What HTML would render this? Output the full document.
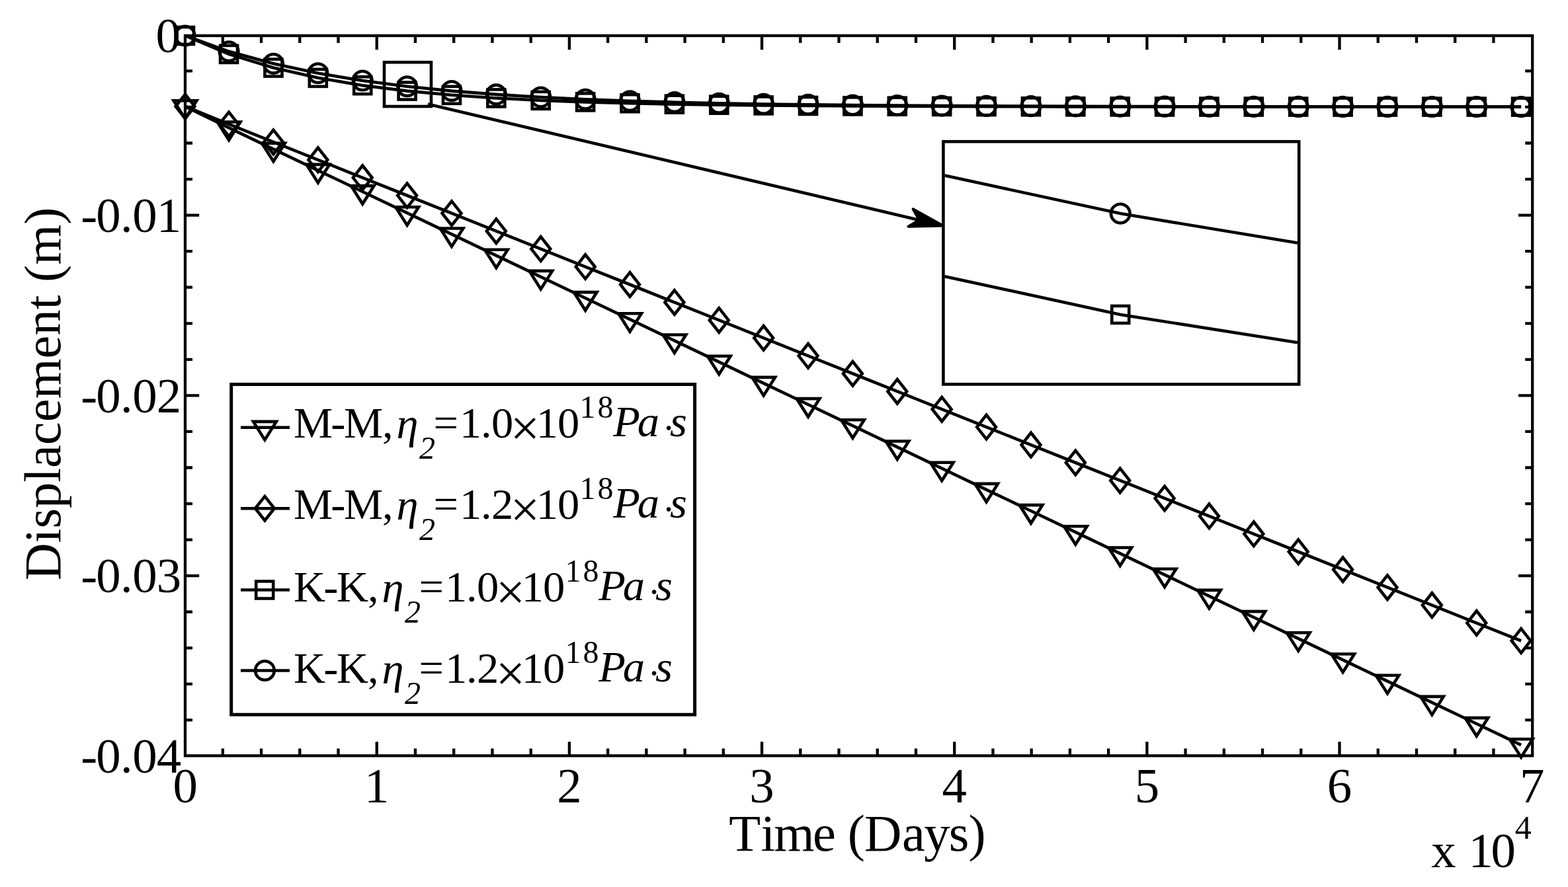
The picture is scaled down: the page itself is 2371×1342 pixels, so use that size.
<!DOCTYPE html>
<html><head><meta charset="utf-8"><title>Displacement vs Time</title>
<style>html,body{margin:0;padding:0;background:#fff;overflow:hidden}svg{display:block}text{font-family:"Liberation Serif","Times New Roman",serif;fill:#000}.it{font-style:italic}</style></head><body>
<svg width="2371" height="1342" viewBox="0 0 2371 1342">
<rect x="0" y="0" width="2371" height="1342" fill="#fff"/>
<g fill="none" stroke="#000" stroke-width="4.6" stroke-linejoin="miter" stroke-miterlimit="10">
<polyline points="280,161.2 346.08,193.4 413.46,225.6 480.84,257.8 548.22,290 615.6,322.2 682.98,354.4 750.36,386.6 817.74,418.8 885.12,451 952.5,483.2 1019.88,515.4 1087.26,547.6 1154.64,579.8 1222.02,612 1289.4,644.2 1356.78,676.4 1424.16,708.6 1491.54,740.8 1558.92,773 1626.3,805.2 1693.68,837.4 1761.06,869.6 1828.44,901.8 1895.82,934 1963.2,966.2 2030.58,998.4 2097.96,1030.6 2165.34,1062.8 2232.72,1095 2300.1,1127.2"/>
<polyline points="280,161 346.08,187.95 413.46,214.9 480.84,241.85 548.22,268.8 615.6,295.75 682.98,322.7 750.36,349.65 817.74,376.6 885.12,403.55 952.5,430.5 1019.88,457.45 1087.26,484.4 1154.64,511.35 1222.02,538.3 1289.4,565.25 1356.78,592.2 1424.16,619.15 1491.54,646.1 1558.92,673.05 1626.3,700 1693.68,726.95 1761.06,753.9 1828.44,780.85 1895.82,807.8 1963.2,834.75 2030.58,861.7 2097.96,888.65 2165.34,915.6 2232.72,942.55 2300.1,969.5"/>
<polyline points="280,54 346.08,81.89 413.46,102.55 480.84,117.85 548.22,129.19 615.6,137.59 682.98,143.81 750.36,148.42 817.74,151.84 885.12,154.37 952.5,156.24 1019.88,157.63 1087.26,158.66 1154.64,159.42 1222.02,159.99 1289.4,160.4 1356.78,160.71 1424.16,160.94 1491.54,161.11 1558.92,161.24 1626.3,161.33 1693.68,161.4 1761.06,161.45 1828.44,161.49 1895.82,161.52 1963.2,161.54 2030.58,161.56 2097.96,161.57 2165.34,161.58 2232.72,161.58 2300.1,161.59"/>
<polyline points="280,54 346.08,77.8 413.46,96.34 480.84,110.77 548.22,122.02 615.6,130.77 682.98,137.59 750.36,142.9 817.74,147.04 885.12,150.26 952.5,152.77 1019.88,154.72 1087.26,156.24 1154.64,157.43 1222.02,158.35 1289.4,159.07 1356.78,159.63 1424.16,160.07 1491.54,160.4 1558.92,160.67 1626.3,160.87 1693.68,161.04 1761.06,161.16 1828.44,161.26 1895.82,161.33 1963.2,161.39 2030.58,161.44 2097.96,161.47 2165.34,161.5 2232.72,161.52 2300.1,161.54"/>
<polygon points="262.6,152.3 297.4,152.3 280,179.8"/>
<polygon points="328.68,184.5 363.48,184.5 346.08,212"/>
<polygon points="396.06,216.7 430.86,216.7 413.46,244.2"/>
<polygon points="463.44,248.9 498.24,248.9 480.84,276.4"/>
<polygon points="530.82,281.1 565.62,281.1 548.22,308.6"/>
<polygon points="598.2,313.3 633,313.3 615.6,340.8"/>
<polygon points="665.58,345.5 700.38,345.5 682.98,373"/>
<polygon points="732.96,377.7 767.76,377.7 750.36,405.2"/>
<polygon points="800.34,409.9 835.14,409.9 817.74,437.4"/>
<polygon points="867.72,442.1 902.52,442.1 885.12,469.6"/>
<polygon points="935.1,474.3 969.9,474.3 952.5,501.8"/>
<polygon points="1002.48,506.5 1037.28,506.5 1019.88,534"/>
<polygon points="1069.86,538.7 1104.66,538.7 1087.26,566.2"/>
<polygon points="1137.24,570.9 1172.04,570.9 1154.64,598.4"/>
<polygon points="1204.62,603.1 1239.42,603.1 1222.02,630.6"/>
<polygon points="1272,635.3 1306.8,635.3 1289.4,662.8"/>
<polygon points="1339.38,667.5 1374.18,667.5 1356.78,695"/>
<polygon points="1406.76,699.7 1441.56,699.7 1424.16,727.2"/>
<polygon points="1474.14,731.9 1508.94,731.9 1491.54,759.4"/>
<polygon points="1541.52,764.1 1576.32,764.1 1558.92,791.6"/>
<polygon points="1608.9,796.3 1643.7,796.3 1626.3,823.8"/>
<polygon points="1676.28,828.5 1711.08,828.5 1693.68,856"/>
<polygon points="1743.66,860.7 1778.46,860.7 1761.06,888.2"/>
<polygon points="1811.04,892.9 1845.84,892.9 1828.44,920.4"/>
<polygon points="1878.42,925.1 1913.22,925.1 1895.82,952.6"/>
<polygon points="1945.8,957.3 1980.6,957.3 1963.2,984.8"/>
<polygon points="2013.18,989.5 2047.98,989.5 2030.58,1017"/>
<polygon points="2080.56,1021.7 2115.36,1021.7 2097.96,1049.2"/>
<polygon points="2147.94,1053.9 2182.74,1053.9 2165.34,1081.4"/>
<polygon points="2215.32,1086.1 2250.12,1086.1 2232.72,1113.6"/>
<polygon points="2282.7,1118.3 2317.5,1118.3 2300.1,1145.8"/>
<polygon points="265.6,161 280,142.7 294.4,161 280,179.3"/>
<polygon points="331.68,187.95 346.08,169.65 360.48,187.95 346.08,206.25"/>
<polygon points="399.06,214.9 413.46,196.6 427.86,214.9 413.46,233.2"/>
<polygon points="466.44,241.85 480.84,223.55 495.24,241.85 480.84,260.15"/>
<polygon points="533.82,268.8 548.22,250.5 562.62,268.8 548.22,287.1"/>
<polygon points="601.2,295.75 615.6,277.45 630,295.75 615.6,314.05"/>
<polygon points="668.58,322.7 682.98,304.4 697.38,322.7 682.98,341"/>
<polygon points="735.96,349.65 750.36,331.35 764.76,349.65 750.36,367.95"/>
<polygon points="803.34,376.6 817.74,358.3 832.14,376.6 817.74,394.9"/>
<polygon points="870.72,403.55 885.12,385.25 899.52,403.55 885.12,421.85"/>
<polygon points="938.1,430.5 952.5,412.2 966.9,430.5 952.5,448.8"/>
<polygon points="1005.48,457.45 1019.88,439.15 1034.28,457.45 1019.88,475.75"/>
<polygon points="1072.86,484.4 1087.26,466.1 1101.66,484.4 1087.26,502.7"/>
<polygon points="1140.24,511.35 1154.64,493.05 1169.04,511.35 1154.64,529.65"/>
<polygon points="1207.62,538.3 1222.02,520 1236.42,538.3 1222.02,556.6"/>
<polygon points="1275,565.25 1289.4,546.95 1303.8,565.25 1289.4,583.55"/>
<polygon points="1342.38,592.2 1356.78,573.9 1371.18,592.2 1356.78,610.5"/>
<polygon points="1409.76,619.15 1424.16,600.85 1438.56,619.15 1424.16,637.45"/>
<polygon points="1477.14,646.1 1491.54,627.8 1505.94,646.1 1491.54,664.4"/>
<polygon points="1544.52,673.05 1558.92,654.75 1573.32,673.05 1558.92,691.35"/>
<polygon points="1611.9,700 1626.3,681.7 1640.7,700 1626.3,718.3"/>
<polygon points="1679.28,726.95 1693.68,708.65 1708.08,726.95 1693.68,745.25"/>
<polygon points="1746.66,753.9 1761.06,735.6 1775.46,753.9 1761.06,772.2"/>
<polygon points="1814.04,780.85 1828.44,762.55 1842.84,780.85 1828.44,799.15"/>
<polygon points="1881.42,807.8 1895.82,789.5 1910.22,807.8 1895.82,826.1"/>
<polygon points="1948.8,834.75 1963.2,816.45 1977.6,834.75 1963.2,853.05"/>
<polygon points="2016.18,861.7 2030.58,843.4 2044.98,861.7 2030.58,880"/>
<polygon points="2083.56,888.65 2097.96,870.35 2112.36,888.65 2097.96,906.95"/>
<polygon points="2150.94,915.6 2165.34,897.3 2179.74,915.6 2165.34,933.9"/>
<polygon points="2218.32,942.55 2232.72,924.25 2247.12,942.55 2232.72,960.85"/>
<polygon points="2285.7,969.5 2300.1,951.2 2314.5,969.5 2300.1,987.8"/>
<rect x="267" y="41" width="26" height="26"/>
<rect x="333.08" y="68.89" width="26" height="26"/>
<rect x="400.46" y="89.55" width="26" height="26"/>
<rect x="467.84" y="104.85" width="26" height="26"/>
<rect x="535.22" y="116.19" width="26" height="26"/>
<rect x="602.6" y="124.59" width="26" height="26"/>
<rect x="669.98" y="130.81" width="26" height="26"/>
<rect x="737.36" y="135.42" width="26" height="26"/>
<rect x="804.74" y="138.84" width="26" height="26"/>
<rect x="872.12" y="141.37" width="26" height="26"/>
<rect x="939.5" y="143.24" width="26" height="26"/>
<rect x="1006.88" y="144.63" width="26" height="26"/>
<rect x="1074.26" y="145.66" width="26" height="26"/>
<rect x="1141.64" y="146.42" width="26" height="26"/>
<rect x="1209.02" y="146.99" width="26" height="26"/>
<rect x="1276.4" y="147.4" width="26" height="26"/>
<rect x="1343.78" y="147.71" width="26" height="26"/>
<rect x="1411.16" y="147.94" width="26" height="26"/>
<rect x="1478.54" y="148.11" width="26" height="26"/>
<rect x="1545.92" y="148.24" width="26" height="26"/>
<rect x="1613.3" y="148.33" width="26" height="26"/>
<rect x="1680.68" y="148.4" width="26" height="26"/>
<rect x="1748.06" y="148.45" width="26" height="26"/>
<rect x="1815.44" y="148.49" width="26" height="26"/>
<rect x="1882.82" y="148.52" width="26" height="26"/>
<rect x="1950.2" y="148.54" width="26" height="26"/>
<rect x="2017.58" y="148.56" width="26" height="26"/>
<rect x="2084.96" y="148.57" width="26" height="26"/>
<rect x="2152.34" y="148.58" width="26" height="26"/>
<rect x="2219.72" y="148.58" width="26" height="26"/>
<rect x="2287.1" y="148.59" width="26" height="26"/>
<circle cx="280" cy="54" r="14.3"/>
<circle cx="346.08" cy="77.8" r="14.3"/>
<circle cx="413.46" cy="96.34" r="14.3"/>
<circle cx="480.84" cy="110.77" r="14.3"/>
<circle cx="548.22" cy="122.02" r="14.3"/>
<circle cx="615.6" cy="130.77" r="14.3"/>
<circle cx="682.98" cy="137.59" r="14.3"/>
<circle cx="750.36" cy="142.9" r="14.3"/>
<circle cx="817.74" cy="147.04" r="14.3"/>
<circle cx="885.12" cy="150.26" r="14.3"/>
<circle cx="952.5" cy="152.77" r="14.3"/>
<circle cx="1019.88" cy="154.72" r="14.3"/>
<circle cx="1087.26" cy="156.24" r="14.3"/>
<circle cx="1154.64" cy="157.43" r="14.3"/>
<circle cx="1222.02" cy="158.35" r="14.3"/>
<circle cx="1289.4" cy="159.07" r="14.3"/>
<circle cx="1356.78" cy="159.63" r="14.3"/>
<circle cx="1424.16" cy="160.07" r="14.3"/>
<circle cx="1491.54" cy="160.4" r="14.3"/>
<circle cx="1558.92" cy="160.67" r="14.3"/>
<circle cx="1626.3" cy="160.87" r="14.3"/>
<circle cx="1693.68" cy="161.04" r="14.3"/>
<circle cx="1761.06" cy="161.16" r="14.3"/>
<circle cx="1828.44" cy="161.26" r="14.3"/>
<circle cx="1895.82" cy="161.33" r="14.3"/>
<circle cx="1963.2" cy="161.39" r="14.3"/>
<circle cx="2030.58" cy="161.44" r="14.3"/>
<circle cx="2097.96" cy="161.47" r="14.3"/>
<circle cx="2165.34" cy="161.5" r="14.3"/>
<circle cx="2232.72" cy="161.52" r="14.3"/>
<circle cx="2300.1" cy="161.54" r="14.3"/>
<rect x="280.0" y="54.0" width="2037.2" height="1089.4" stroke-width="4.3"/>
<path d="M336.83,1143.4v-11.0M336.83,54v11.0M395.06,1143.4v-11.0M395.06,54v11.0M453.29,1143.4v-11.0M453.29,54v11.0M511.52,1143.4v-11.0M511.52,54v11.0M569.75,1143.4v-21.2M569.75,54v21.2M627.98,1143.4v-11.0M627.98,54v11.0M686.21,1143.4v-11.0M686.21,54v11.0M744.44,1143.4v-11.0M744.44,54v11.0M802.67,1143.4v-11.0M802.67,54v11.0M860.9,1143.4v-21.2M860.9,54v21.2M919.13,1143.4v-11.0M919.13,54v11.0M977.36,1143.4v-11.0M977.36,54v11.0M1035.59,1143.4v-11.0M1035.59,54v11.0M1093.82,1143.4v-11.0M1093.82,54v11.0M1152.05,1143.4v-21.2M1152.05,54v21.2M1210.28,1143.4v-11.0M1210.28,54v11.0M1268.51,1143.4v-11.0M1268.51,54v11.0M1326.74,1143.4v-11.0M1326.74,54v11.0M1384.97,1143.4v-11.0M1384.97,54v11.0M1443.2,1143.4v-21.2M1443.2,54v21.2M1501.43,1143.4v-11.0M1501.43,54v11.0M1559.66,1143.4v-11.0M1559.66,54v11.0M1617.89,1143.4v-11.0M1617.89,54v11.0M1676.12,1143.4v-11.0M1676.12,54v11.0M1734.35,1143.4v-21.2M1734.35,54v21.2M1792.58,1143.4v-11.0M1792.58,54v11.0M1850.81,1143.4v-11.0M1850.81,54v11.0M1909.04,1143.4v-11.0M1909.04,54v11.0M1967.27,1143.4v-11.0M1967.27,54v11.0M2025.5,1143.4v-21.2M2025.5,54v21.2M2083.73,1143.4v-11.0M2083.73,54v11.0M2141.96,1143.4v-11.0M2141.96,54v11.0M2200.19,1143.4v-11.0M2200.19,54v11.0M2258.42,1143.4v-11.0M2258.42,54v11.0M280,107.36h11.0M2317.2,107.36h-11.0M280,161.92h11.0M2317.2,161.92h-11.0M280,216.48h11.0M2317.2,216.48h-11.0M280,271.04h11.0M2317.2,271.04h-11.0M280,325.6h21.2M2317.2,325.6h-21.2M280,380.16h11.0M2317.2,380.16h-11.0M280,434.72h11.0M2317.2,434.72h-11.0M280,489.28h11.0M2317.2,489.28h-11.0M280,543.84h11.0M2317.2,543.84h-11.0M280,598.4h21.2M2317.2,598.4h-21.2M280,652.96h11.0M2317.2,652.96h-11.0M280,707.52h11.0M2317.2,707.52h-11.0M280,762.08h11.0M2317.2,762.08h-11.0M280,816.64h11.0M2317.2,816.64h-11.0M280,871.2h21.2M2317.2,871.2h-21.2M280,925.76h11.0M2317.2,925.76h-11.0M280,980.32h11.0M2317.2,980.32h-11.0M280,1034.88h11.0M2317.2,1034.88h-11.0M280,1089.44h11.0M2317.2,1089.44h-11.0" stroke-width="4.3"/>
<rect x="581" y="94.2" width="71" height="66.8"/>
<rect x="1426.4" y="214.2" width="537.8" height="367.2" stroke-width="4.6"/>
<polyline points="1428.5,265.6 1694.2,323.1 1962,367.5"/>
<polyline points="1428.5,418.2 1694.2,475.9 1962,518.3"/>
<circle cx="1694.2" cy="323.1" r="14.3"/>
<rect x="1681.2" y="462.9" width="26" height="26"/>
<line x1="647" y1="157.5" x2="1390" y2="333" stroke-width="4.7"/>
<rect x="349.7" y="581.5" width="700.9" height="499.7" fill="#fff" stroke-width="5.0"/>
<line x1="364" y1="646.8" x2="438" y2="646.8"/>
<line x1="364" y1="769.2" x2="438" y2="769.2"/>
<line x1="364" y1="892.5" x2="438" y2="892.5"/>
<line x1="364" y1="1014.5" x2="438" y2="1014.5"/>
<polygon points="383,637.9 417.8,637.9 400.4,665.4"/>
<polygon points="386,769.2 400.4,750.9 414.8,769.2 400.4,787.5"/>
<rect x="387.2" y="879.5" width="26" height="26"/>
<circle cx="400.4" cy="1014.5" r="14.3"/>
</g>
<polygon points="1426,341.5 1380.6,316.3 1390,333 1373.5,342.8" fill="#000" stroke="#000" stroke-width="4" stroke-linejoin="round"/>
<text x="280.3" y="1214.2" font-size="74.8" text-anchor="middle">0</text>
<text x="569.75" y="1214.2" font-size="74.8" text-anchor="middle">1</text>
<text x="860.9" y="1214.2" font-size="74.8" text-anchor="middle">2</text>
<text x="1152.05" y="1214.2" font-size="74.8" text-anchor="middle">3</text>
<text x="1443.2" y="1214.2" font-size="74.8" text-anchor="middle">4</text>
<text x="1734.35" y="1214.2" font-size="74.8" text-anchor="middle">5</text>
<text x="2025.5" y="1214.2" font-size="74.8" text-anchor="middle">6</text>
<text x="2316.65" y="1214.2" font-size="74.8" text-anchor="middle">7</text>
<text x="235.4" y="79.2" font-size="74.8">0</text>
<text x="122.2 145.2 182 200.3 236.8" y="350.7" font-size="74.8">-0.01</text>
<text x="122.2 145.2 182 200.3 236.8" y="623.5" font-size="74.8">-0.02</text>
<text x="122.2 145.2 182 200.3 236.8" y="896.3" font-size="74.8">-0.03</text>
<text x="122.2 145.2 182 200.3 236.8" y="1169.1" font-size="74.8">-0.04</text>
<text x="1102.3 1150.5 1170.5 1228.9 1262 1281.7 1306.7 1364.1 1397.3 1434.7 1464.4" y="1286.8" font-size="78.5">Time (Days)</text>
<text transform="translate(91,878.1) rotate(-90)" font-size="78.5">Displacement (m)</text>
<text x="2164.3 2200 2220.5 2254.5" y="1312.2" font-size="74.8">x 10</text>
<text x="2290.8" y="1269.2" font-size="50">4</text>
<text x="443.9 500.3 520.1 578.1" y="661.9" font-size="66.5">M-M,</text>
<text x="599.4" y="662.9" font-size="66.5" class="it">η</text>
<text x="634" y="693.9" font-size="48" class="it">2</text>
<text x="655.5 694.9 727.1 743" y="661.9" font-size="66.5">=1.0</text>
<text x="771.7" y="674.2" font-size="78.6">×</text>
<text x="810.7 843.1" y="661.9" font-size="66.5">10</text>
<text x="876.4 903.5" y="631.7" font-size="48">18</text>
<text x="927.3 963.7" y="659.7" font-size="66.5" class="it">Pa</text>
<text x="1003.2" y="666.6" font-size="56" class="it">·</text>
<text x="1012.9" y="659.7" font-size="66.5" class="it">s</text>
<text x="443.9 500.3 520.1 578.1" y="785.0" font-size="66.5">M-M,</text>
<text x="599.4" y="786" font-size="66.5" class="it">η</text>
<text x="634" y="817" font-size="48" class="it">2</text>
<text x="655.5 694.9 727.1 743" y="785.0" font-size="66.5">=1.2</text>
<text x="771.7" y="797.3" font-size="78.6">×</text>
<text x="810.7 843.1" y="785.0" font-size="66.5">10</text>
<text x="876.4 903.5" y="754.8" font-size="48">18</text>
<text x="927.3 963.7" y="782.8" font-size="66.5" class="it">Pa</text>
<text x="1003.2" y="789.7" font-size="56" class="it">·</text>
<text x="1012.9" y="782.8" font-size="66.5" class="it">s</text>
<text x="443.9 489.2 509.1 555.9" y="909.9" font-size="66.5">K-K,</text>
<text x="577.4" y="910.9" font-size="66.5" class="it">η</text>
<text x="612" y="941.9" font-size="48" class="it">2</text>
<text x="633.5 672.9 705.1 721" y="909.9" font-size="66.5">=1.0</text>
<text x="749.7" y="922.2" font-size="78.6">×</text>
<text x="788.7 821.1" y="909.9" font-size="66.5">10</text>
<text x="854.4 881.5" y="879.7" font-size="48">18</text>
<text x="905.3 941.7" y="907.7" font-size="66.5" class="it">Pa</text>
<text x="981.2" y="914.6" font-size="56" class="it">·</text>
<text x="990.9" y="907.7" font-size="66.5" class="it">s</text>
<text x="443.9 489.2 509.1 555.9" y="1032.9" font-size="66.5">K-K,</text>
<text x="577.4" y="1033.9" font-size="66.5" class="it">η</text>
<text x="612" y="1064.9" font-size="48" class="it">2</text>
<text x="633.5 672.9 705.1 721" y="1032.9" font-size="66.5">=1.2</text>
<text x="749.7" y="1045.2" font-size="78.6">×</text>
<text x="788.7 821.1" y="1032.9" font-size="66.5">10</text>
<text x="854.4 881.5" y="1002.7" font-size="48">18</text>
<text x="905.3 941.7" y="1030.7" font-size="66.5" class="it">Pa</text>
<text x="981.2" y="1037.6" font-size="56" class="it">·</text>
<text x="990.9" y="1030.7" font-size="66.5" class="it">s</text>
</svg></body></html>
